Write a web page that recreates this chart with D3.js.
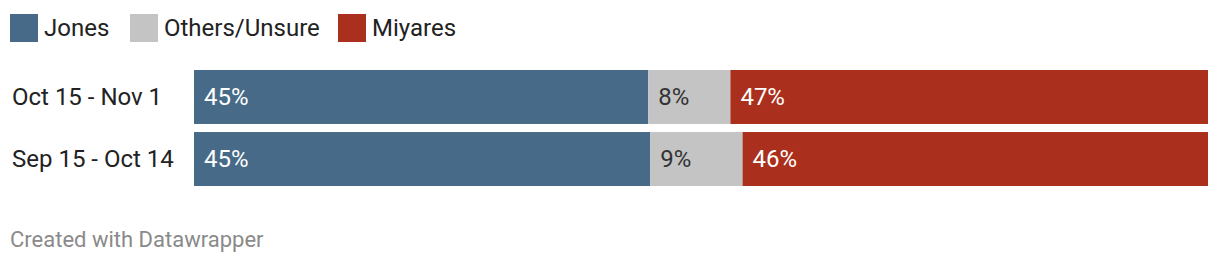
<!doctype html>
<html>
<head>
<script src="https://cdn.jsdelivr.net/npm/d3@7"></script>
<style>
  body { margin: 0; background: #fff; font-family: Roboto, sans-serif; }
</style>
</head>
<body>
<div id="chart"></div>
<script>
// data
var periods = ["Oct 15 - Nov 1", "Sep 15 - Oct 14"];
var series = ["Jones", "Others/Unsure", "Miyares"];
var jones = [44.8, 45.0];
var others = [8.1, 9.1];
var miyares = [47.1, 45.9];
var labels = [["45%", "8%", "47%"], ["45%", "9%", "46%"]];

var colors = ["#466a87", "#c4c4c4", "#ab2f1d"];
var textColors = ["#fff", "#333", "#fff"];

var width = 1220, height = 262;
var svg = d3.select("#chart").append("svg").attr("width", width).attr("height", height);

var rows = periods.map(function(p, i) {
  return {period: p, "Jones": jones[i], "Others/Unsure": others[i], "Miyares": miyares[i], labels: labels[i]};
});

var stack = d3.stack().keys(series);
var layers = stack(rows);

var x = d3.scaleLinear().domain([0, 100]).range([194, 1208]);
var y = d3.scaleBand().domain(periods).range([70, 186]).paddingInner(0.13).paddingOuter(0);

// legend
var lx = [10, 130, 338];
var legend = svg.selectAll("g.leg").data(series).enter().append("g")
  .attr("transform", function(d, i) { return "translate(" + lx[i] + ",14)"; });
legend.append("rect").attr("width", 28).attr("height", 28).attr("fill", function(d, i) { return colors[i]; });
legend.append("text").attr("x", 34).attr("y", 14).attr("dy", "0.35em")
  .attr("font-size", 24).attr("fill", "#222").text(function(d) { return d; });

// row labels
svg.selectAll("text.row").data(periods).enter().append("text")
  .attr("x", 12).attr("y", function(d) { return y(d) + y.bandwidth() / 2; })
  .attr("dy", "0.35em").attr("font-size", 24).attr("fill", "#222")
  .text(function(d) { return d; });

// bars
var g = svg.selectAll("g.layer").data(layers).enter().append("g");
g.selectAll("rect").data(function(d) { return d; }).enter().append("rect")
  .attr("x", function(d) { return x(d[0]); })
  .attr("width", function(d) { return x(d[1]) - x(d[0]); })
  .attr("y", function(d) { return y(d.data.period); })
  .attr("height", y.bandwidth())
  .attr("fill", function(d) { return colors[series.indexOf(d3.select(this.parentNode).datum().key)]; });

g.each(function(layer, k) {
  d3.select(this).selectAll("text").data(layer).enter().append("text")
    .attr("x", function(d) { return x(d[0]) + 10; })
    .attr("y", function(d) { return y(d.data.period) + y.bandwidth() / 2; })
    .attr("dy", "0.35em").attr("font-size", 24).attr("fill", textColors[k])
    .text(function(d) { return d.data.labels[k]; });
});

svg.append("text").attr("x", 10).attr("y", 239).attr("dy", "0.35em")
  .attr("font-size", 22).attr("fill", "#8a8a8a").text("Created with Datawrapper");
</script>
</body>
</html>
